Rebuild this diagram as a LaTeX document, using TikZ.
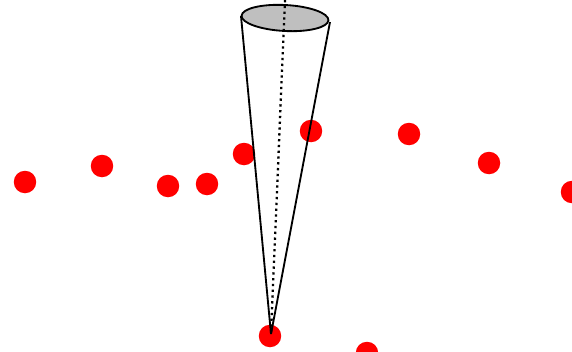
\documentclass[tikz,border=0pt]{standalone}
\usepackage{tikz}
\usetikzlibrary{shapes.geometric}
\tikzset{
  reddot/.style={circle,fill=red,draw=none,minimum size=0.45cm,inner sep=0pt},
  conetop/.style={ellipse,draw=black,fill=black!25,line width=1.05pt,minimum width=1.74cm,minimum height=0.52cm,inner sep=0pt,rotate=-3},
  coneline/.style={draw=black,line width=1.05pt}
}
\begin{document}
\begin{tikzpicture}[x=0.02cm,y=-0.02cm]
\useasboundingbox (0,0) rectangle (572,352);
\clip (0,0) rectangle (572,352);
\node[reddot] (d0) at (25,182) {};
\node[reddot] (d1) at (102,166) {};
\node[reddot] (d2) at (168,186) {};
\node[reddot] (d3) at (207,184) {};
\node[reddot] (d4) at (244,154) {};
\node[reddot] (d5) at (311,131) {};
\node[reddot] (d6) at (409,134) {};
\node[reddot] (d7) at (489,163) {};
\node[reddot] (d8) at (572,192) {};
\node[reddot] (d9) at (270,336) {};
\node[reddot] (d10) at (367,353) {};
\node[conetop] (top) at (285,18) {};
\coordinate (apex) at (271,334);
\coordinate (left) at (241,16);
\coordinate (right) at (330,22);
\coordinate (axis) at (285,0);
\draw[coneline] (left)--(apex);
\draw[coneline] (right)--(apex);
\draw[line width=1.3pt,dotted] (axis)--(apex);
\end{tikzpicture}
\end{document}
